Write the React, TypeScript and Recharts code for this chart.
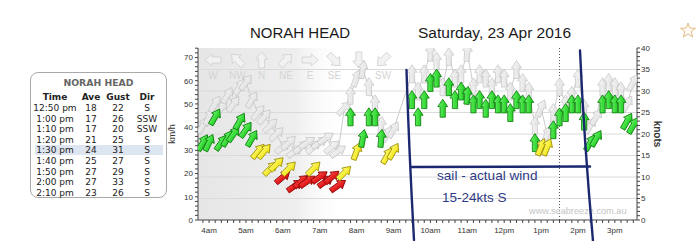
import React from "react";
import { ScatterChart, Scatter, XAxis, YAxis, CartesianGrid, ReferenceLine } from "recharts";

// readings, 10 min apart (knots)
const times = [
  "03:50", "04:00", "04:10", "04:20", "04:30", "04:40", "04:50", "05:00", "05:10", "05:20",
  "05:30", "05:40", "05:50", "06:00", "06:10", "06:20", "06:30", "06:40", "06:50", "07:00",
  "07:10", "07:20", "07:30", "07:40", "07:50", "08:00", "08:10", "08:20", "08:30", "08:40",
  "08:50", "09:00", "09:30", "09:40", "09:50", "10:00", "10:10", "10:20", "10:30", "10:40",
  "10:50", "11:00", "11:10", "11:20", "11:30", "11:40", "11:50", "12:00", "12:10", "12:20",
  "12:30", "12:40", "12:50", "13:00", "13:10", "13:20", "13:30", "13:40", "13:50", "14:00",
  "14:10", "14:20", "14:30", "14:40", "14:50", "15:00", "15:10", "15:20", "15:30",
];
const avgKts = [
  18, 18, 24, 18, 19, 20, 23, 21, 19, 16,
  16, 12, 13, 10, 12, 8, 9, 9, 12, 10,
  9, 10, 8, 11, 24, 16, 19, 24, 24, 19,
  15, 16, 28, 24, 28, 32, 33, 26, 31, 28,
  30, 29, 27, 28, 26, 28, 27, 27, 25, 28,
  27, 27, 18, 17, 17, 21, 24, 25, 27, 27,
  23, 18, 19, 27, 28, 27, 27, 23, 22,
];
const gustKts = [
  22, 24, 27, 26, 29, 27, 31, 32, 28, 25,
  24, 22, 20, 17, 18, 16, 17, 18, 17, 18,
  19, 17, 16, 26, 29, 33, 35, 31, 27, 22,
  20, 21, 34, 30, 34, 39, 37, 31, 38, 33,
  34, 39, 31, 34, 33, 31, 34, 33, 30, 35,
  32, 30, 22, 26, 20, 25, 31, 27, 29, 33,
  26, 22, 24, 31, 32, 31, 30, 27, 32,
];
// direction the wind comes from, degrees
const dirDeg = [
  210, 205, 210, 215, 210, 215, 210, 215, 210, 220,
  220, 225, 225, 230, 225, 235, 230, 235, 225, 235,
  235, 230, 235, 225, 180, 200, 190, 180, 180, 185,
  210, 210, 180, 180, 180, 180, 180, 180, 180, 180,
  180, 185, 180, 180, 180, 180, 180, 180, 180, 180,
  180, 180, 180, 202, 202, 180, 180, 180, 180, 180,
  180, 210, 210, 180, 180, 180, 180, 210, 210,
];

const tableTimes = ["12:50 pm", "1:00 pm", "1:10 pm", "1:20 pm", "1:30 pm", "1:40 pm", "1:50 pm", "2:00 pm", "2:10 pm"];
const tableAve = ["18", "17", "17", "21", "24", "25", "27", "27", "23"];
const tableGust = ["22", "26", "20", "25", "31", "27", "29", "33", "26"];
const tableDir = ["S", "SSW", "SSW", "S", "S", "S", "S", "S", "S"];

const compassLabels = ["W", "NW", "N", "NE", "E", "SE", "S", "SW"];
const compassDeg = [270, 315, 0, 45, 90, 135, 180, 225];

const gridKts = [5, 10, 15, 20, 25, 30, 35];
const nowMark = "13:30";

const toHours = (s: string) => {
  const [h, m] = s.split(":").map(Number);
  return h + m / 60;
};

const avgData = times.map((t, i) => ({ t: toHours(t), v: avgKts[i], dir: dirDeg[i] }));
const gustData = times.map((t, i) => ({ t: toHours(t), v: gustKts[i], dir: dirDeg[i] }));

const xTicks: number[] = [];
for (let i = 23; i <= 93; i++) xTicks.push(i / 6);
const kmhTicks: number[] = [];
for (let v = 0; v <= 74; v += 2) kmhTicks.push(v);
const ktTicks: number[] = [];
for (let v = 0; v <= 40; v++) ktTicks.push(v);

const hourLabel = (v: number) => {
  const h = Math.round(v);
  if (Math.abs(v - h) > 1e-6) return "";
  if (h === 12) return "12pm";
  return h > 12 ? `${h - 12}pm` : `${h}am`;
};

const ARROW = "M0,-9 L5,-1.5 L2.6,-1.5 L2.6,9 L-2.6,9 L-2.6,-1.5 L-5,-1.5 Z";

const speedStyle = (kt: number) => {
  if (kt < 10.5) return { fill: "url(#gRed)", stroke: "#8a0000" };
  if (kt < 17.5) return { fill: "url(#gYellow)", stroke: "#9a8a00" };
  return { fill: "url(#gGreen)", stroke: "#0a7a0a" };
};

const AvgArrow = (p: any) => {
  const { cx, cy, payload } = p;
  if (cx == null || cy == null) return <g />;
  const s = speedStyle(payload.v);
  return (
    <path d={ARROW} transform={`translate(${cx},${cy}) rotate(${payload.dir - 180})`}
      fill={s.fill} stroke={s.stroke} strokeWidth={0.8} />
  );
};

const GustArrow = (p: any) => {
  const { cx, cy, payload } = p;
  if (cx == null || cy == null) return <g />;
  return (
    <path d={ARROW} transform={`translate(${cx},${cy}) rotate(${payload.dir - 180})`}
      fill="url(#gGray)" stroke="#c2c2c2" strokeWidth={0.8} opacity={0.85} />
  );
};

const axisFont = { fontSize: 8, fill: "#333", fontFamily: "Liberation Sans, Arial, sans-serif" };

export default function App() {
  const rowY = (i: number) => 108 + i * 10.6;
  return (
    <div style={{ position: "absolute", left: 0, top: 0, width: 700, height: 241, background: "#fff", overflow: "hidden" }}>
      {/* background: gradients, night shading, compass key */}
      <svg width={700} height={241} style={{ position: "absolute", left: 0, top: 0 }}>
        <defs>
          <linearGradient id="gGreen" x1="0" x2="1" y1="0" y2="0">
            <stop offset="0" stopColor="#6ff76f" />
            <stop offset="1" stopColor="#12c412" />
          </linearGradient>
          <linearGradient id="gYellow" x1="0" x2="1" y1="0" y2="0">
            <stop offset="0" stopColor="#ffff80" />
            <stop offset="1" stopColor="#eedd00" />
          </linearGradient>
          <linearGradient id="gRed" x1="0" x2="1" y1="0" y2="0">
            <stop offset="0" stopColor="#ff4a4a" />
            <stop offset="1" stopColor="#d00000" />
          </linearGradient>
          <linearGradient id="gGray" x1="0" x2="1" y1="0" y2="0">
            <stop offset="0" stopColor="#f6f6f6" />
            <stop offset="1" stopColor="#dedede" />
          </linearGradient>
          <linearGradient id="gNight" x1="0" x2="1" y1="0" y2="0">
            <stop offset="0" stopColor="#e6e6e6" />
            <stop offset="0.65" stopColor="#eeeeee" />
            <stop offset="1" stopColor="#ffffff" stopOpacity="0" />
          </linearGradient>
        </defs>
        <rect x={198} y={48} width={150} height={172} fill="url(#gNight)" />
        {compassLabels.map((lab, i) => {
          const x = 213 + i * 24.3;
          return (
            <g key={lab}>
              <path d="M0,-8 L6,-1 L3,-1 L3,8 L-3,8 L-3,-1 L-6,-1 Z"
                transform={`translate(${x},60) rotate(${compassDeg[i]})`}
                fill="#f2f2f2" stroke="#cfcfcf" strokeWidth={0.8} />
              <text x={x} y={79} textAnchor="middle" fontSize={10} fill="#d4d4d4"
                fontFamily="Liberation Sans, Arial, sans-serif">{lab}</text>
            </g>
          );
        })}
      </svg>

      <div style={{ position: "absolute", left: 0, top: 0 }}>
        <ScatterChart width={700} height={241} margin={{ top: 48, right: 33, bottom: 1, left: 168 }}>
          <CartesianGrid yAxisId="kt" vertical={false} horizontalValues={gridKts} stroke="#dadada" />
          <XAxis dataKey="t" type="number" domain={[3.7, 15.6]} allowDataOverflow ticks={xTicks} interval={0}
            tickFormatter={hourLabel} height={20} tickSize={3} tickMargin={4} tick={axisFont}
            axisLine={{ stroke: "#444" }} tickLine={{ stroke: "#444" }} />
          <YAxis yAxisId="kmh" orientation="left" type="number" domain={[0, 74.08]} allowDataOverflow
            ticks={kmhTicks} interval={0} width={30} tickSize={3} tickMargin={2} tick={axisFont}
            tickFormatter={(v: number) => (v % 10 === 0 ? String(v) : "")}
            axisLine={{ stroke: "#444" }} tickLine={{ stroke: "#444" }} />
          <YAxis yAxisId="kt" orientation="right" type="number" domain={[0, 40]} allowDataOverflow
            ticks={ktTicks} interval={0} width={30} tickSize={3} tickMargin={1} tick={axisFont}
            tickFormatter={(v: number) => (v % 5 === 0 ? String(v) : "")}
            axisLine={{ stroke: "#444" }} tickLine={{ stroke: "#444" }} />
          <ReferenceLine yAxisId="kt" x={toHours(nowMark)} stroke="#555" strokeDasharray="1 2" />
          <Scatter yAxisId="kt" data={gustData} dataKey="v" shape={GustArrow}
            line={{ stroke: "#cccccc", strokeWidth: 1 }} isAnimationActive={false} />
          <Scatter yAxisId="kt" data={avgData} dataKey="v" shape={AvgArrow} isAnimationActive={false} />
        </ScatterChart>
      </div>

      {/* titles, axis names, hand-drawn notes */}
      <svg width={700} height={241} style={{ position: "absolute", left: 0, top: 0, pointerEvents: "none" }}
        fontFamily="Liberation Sans, Arial, sans-serif">
        <text x={300} y={38} textAnchor="middle" fontSize={15} fill="#1a1a1a">NORAH HEAD</text>
        <text x={418} y={38} fontSize={15.5} fill="#1a1a1a">Saturday, 23 Apr 2016</text>
        <path d="M688,23 L690,28 L695.5,28.3 L691.2,31.6 L692.7,37 L688,34 L683.3,37 L684.8,31.6 L680.5,28.3 L686,28 Z"
          fill="#fffaf2" stroke="#e2b27a" strokeWidth={0.9} />
        <text transform="translate(175,134) rotate(-90)" textAnchor="middle" fontSize={9} fill="#333">km/h</text>
        <text transform="translate(654,134) rotate(90)" textAnchor="middle" fontSize={10} fontWeight="bold" fill="#333">knots</text>
        <text x={529} y={214} fontSize={9.2} fill="#c4c4c4">www.seabreeze.com.au</text>
        <g stroke="#1b2870" strokeWidth={2.4} fill="none" strokeLinecap="round">
          <path d="M406.5,70 Q409,150 414,240" />
          <path d="M411,167 L590,166.5" />
          <path d="M580,50.5 Q584,140 593,241" />
        </g>
        <text x={437} y={180} fontSize={13.6} fill="#2d3a85">sail - actual wind</text>
        <text x={442} y={201.5} fontSize={13.5} fill="#2d3a85">15-24kts S</text>
      </svg>

      {/* latest readings box */}
      <div style={{
        position: "absolute", left: 30, top: 72, width: 135, height: 124, border: "1px solid #a9a9a9",
        borderRadius: 8, fontFamily: "DejaVu Sans, Verdana, sans-serif", color: "#222",
      }} />
      <div style={{ position: "absolute", left: 35, top: rowY(4) - 5, width: 128, height: 10, background: "#dde5f0" }} />
      <div style={{ position: "absolute", left: 30, top: 77, width: 137, textAlign: "center", fontFamily: "DejaVu Sans, Verdana, sans-serif", fontSize: 9.3, fontWeight: "bold", color: "#666", lineHeight: "12px" }}>
        NORAH HEAD
      </div>
      {[["Time", "Ave", "Gust", "Dir"], ...tableTimes.map((t, i) => [t, tableAve[i], tableGust[i], tableDir[i]])].map((row, r) => {
        const y = r === 0 ? 97 : rowY(r - 1);
        const centers = [55, 91, 118, 147];
        return row.map((cell, c) => (
          <div key={`${r}-${c}`} style={{
            position: "absolute", left: centers[c] - 25, width: 50, top: y - 6, lineHeight: "12px",
            textAlign: "center", fontFamily: "DejaVu Sans, Verdana, sans-serif", fontSize: 9,
            fontWeight: r === 0 ? "bold" : "normal", color: "#222", whiteSpace: "nowrap",
          }}>{cell}</div>
        ));
      })}
    </div>
  );
}
